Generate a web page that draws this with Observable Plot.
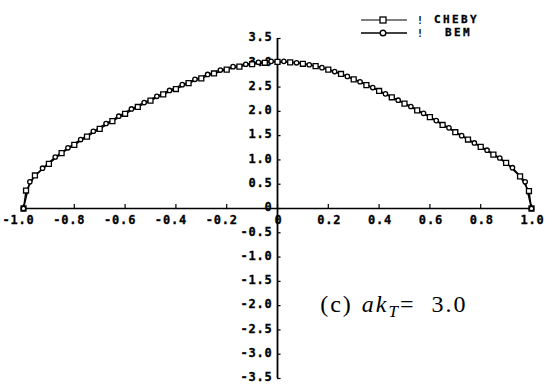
<!DOCTYPE html>
<html>
<head>
<meta charset="utf-8">
<script src="https://cdn.jsdelivr.net/npm/d3@7"></script>
<script src="https://cdn.jsdelivr.net/npm/@observablehq/plot@0.6"></script>
<style>
  html, body { margin: 0; padding: 0; background: #fff; }
  #chart { position: relative; width: 545px; height: 387px; }
</style>
</head>
<body>
<div id="chart"></div>
<script>
// Normalised distribution along -1 <= x <= 1, two solution methods.
const chebyX = [-1, -0.99, -0.955, -0.9, -0.85, -0.8, -0.75, -0.7, -0.65, -0.6, -0.55, -0.5, -0.45, -0.4, -0.35, -0.3, -0.25, -0.2, -0.15, -0.1, -0.05, 0,
                0.05, 0.1, 0.15, 0.2, 0.25, 0.3, 0.35, 0.4, 0.45, 0.5, 0.55, 0.6, 0.65, 0.7, 0.75, 0.8, 0.85, 0.9, 0.955, 0.99, 1];
const chebyY = [0, 0.37, 0.68, 0.92, 1.14, 1.31, 1.48, 1.64, 1.80, 1.95, 2.09, 2.22, 2.35, 2.46, 2.58, 2.68, 2.78, 2.86, 2.92, 2.97, 3.00, 3.02,
                3.01, 2.98, 2.93, 2.86, 2.77, 2.66, 2.54, 2.42, 2.29, 2.16, 2.02, 1.88, 1.72, 1.57, 1.42, 1.27, 1.11, 0.94, 0.66, 0.36, 0];

const bemX = [-1, -0.975, -0.925, -0.875, -0.825, -0.775, -0.725, -0.675, -0.625, -0.575, -0.525, -0.475, -0.425, -0.375, -0.325, -0.275, -0.225, -0.175, -0.125, -0.075, -0.025,
              0.025, 0.075, 0.125, 0.175, 0.225, 0.275, 0.325, 0.375, 0.425, 0.475, 0.525, 0.575, 0.625, 0.675, 0.725, 0.775, 0.825, 0.875, 0.925, 0.975, 1];
const bemY = [0, 0.55, 0.83, 1.06, 1.25, 1.42, 1.59, 1.75, 1.90, 2.05, 2.18, 2.31, 2.43, 2.55, 2.66, 2.76, 2.85, 2.92, 2.97, 3.01, 3.03,
              3.03, 3.00, 2.96, 2.90, 2.82, 2.72, 2.61, 2.49, 2.36, 2.23, 2.10, 1.96, 1.81, 1.66, 1.50, 1.35, 1.20, 1.04, 0.84, 0.55, 0];

const xTicks = [-1, -0.8, -0.6, -0.4, -0.2, 0, 0.2, 0.4, 0.6, 0.8, 1];
const xTickLabels = ["-1.0", "-0.8", "-0.6", "-0.4", "-0.2", "0", "0.2", "0.4", "0.6", "0.8", "1.0"];
const yTicks = [3.5, 3, 2.5, 2, 1.5, 1, 0.5, 0, -0.5, -1, -1.5, -2, -2.5, -3, -3.5];
const yTickLabels = ["3.5", "3.0", "2.5", "2.0", "1.5", "1.0", "0.5", "0", "-0.5", "-1.0", "-1.5", "-2.0", "-2.5", "-3.0", "-3.5"];

const seriesNames = ["CHEBY", "BEM"];

const cheby = chebyX.map((x, i) => ({x, y: chebyY[i]}));
const bem = bemX.map((x, i) => ({x, y: bemY[i]}));
const xt = xTicks.map((x, i) => ({x, label: xTickLabels[i]}));
const yt = yTicks.map((y, i) => ({y, label: yTickLabels[i]}));

const labelFont = {fontFamily: "DejaVu Sans Mono", fontWeight: "bold", fontSize: 12, fill: "black", stroke: "black", strokeWidth: 0.3};

const chart = Plot.plot({
  width: 545,
  height: 387,
  marginLeft: 23,
  marginRight: 14,
  marginTop: 38,
  marginBottom: 9,
  x: {domain: [-1, 1], axis: null},
  y: {domain: [-3.5, 3.5], axis: null},
  style: {background: "white", overflow: "visible"},
  marks: [
    // axes crossing at the origin
    Plot.ruleY([0], {x1: -1, x2: 1, stroke: "black", strokeWidth: 1.4}),
    Plot.ruleX([0], {y1: -3.5, y2: 3.5, stroke: "black", strokeWidth: 1.8}),
    Plot.ruleX(xTicks, {y1: 0, y2: 0.08, stroke: "black", strokeWidth: 1.2}),
    Plot.ruleY(yTicks, {x1: 0, x2: 0.014, stroke: "black", strokeWidth: 1.2}),
    // tick labels
    Plot.text(xt.filter(d => d.x < 0), {x: "x", y: 0, text: "label", dy: 12, dx: -5, ...labelFont}),
    Plot.text(xt.filter(d => d.x >= 0), {x: "x", y: 0, text: "label", dy: 12, dx: 1, ...labelFont}),
    Plot.text(yt, {x: 0, y: "y", text: "label", dx: -5, dy: -1, textAnchor: "end", ...labelFont}),
    // the two solutions
    Plot.line(cheby, {x: "x", y: "y", stroke: "black", strokeWidth: 1.4}),
    Plot.line(bem, {x: "x", y: "y", stroke: "black", strokeWidth: 1.4}),
    Plot.dot(cheby, {x: "x", y: "y", symbol: "square", r: 2.8, fill: "white", stroke: "black", strokeWidth: 1.3}),
    Plot.dot(bem, {x: "x", y: "y", symbol: "circle", r: 2.2, fill: "white", stroke: "black", strokeWidth: 1.3})
  ]
});

document.getElementById("chart").appendChild(chart);

const svg = d3.select(chart);
svg.selectAll("g[aria-label=text] text").style("letter-spacing", "0.8px");

// legend, top right
const legend = svg.append("g").attr("transform", "translate(361,0)").attr("text-anchor", "start");
const rows = [{name: seriesNames[0], sym: "square", y: 20, w: 1}, {name: seriesNames[1], sym: "circle", y: 33, w: 1.6}];
rows.forEach(r => {
  legend.append("line").attr("x1", 0).attr("x2", 46).attr("y1", r.y).attr("y2", r.y)
    .attr("stroke", "black").attr("stroke-width", r.w);
  if (r.sym === "square") {
    legend.append("rect").attr("x", 19).attr("y", r.y - 3).attr("width", 6).attr("height", 6)
      .attr("fill", "white").attr("stroke", "black").attr("stroke-width", 1.3);
  } else {
    legend.append("circle").attr("cx", 22).attr("cy", r.y).attr("r", 2.8)
      .attr("fill", "white").attr("stroke", "black").attr("stroke-width", 1.4);
  }
  legend.append("text").attr("x", 59).attr("y", r.y + 4).attr("text-anchor", "middle")
    .attr("font-family", "DejaVu Sans Mono").attr("font-weight", "bold").attr("font-size", 10)
    .text("!");
});
legend.append("text").attr("x", 73).attr("y", 23)
  .attr("font-family", "DejaVu Sans Mono").attr("font-weight", "bold").attr("font-size", 11)
  .attr("letter-spacing", "2.4px").attr("stroke", "black").attr("stroke-width", 0.3).text(seriesNames[0]);
legend.append("text").attr("x", 84).attr("y", 36)
  .attr("font-family", "DejaVu Sans Mono").attr("font-weight", "bold").attr("font-size", 11)
  .attr("letter-spacing", "2.4px").attr("stroke", "black").attr("stroke-width", 0.3).text(seriesNames[1]);

// case annotation placed in data coordinates
const sx = chart.scale("x"), sy = chart.scale("y");
const note = svg.append("text")
  .attr("x", sx.apply(0.17)).attr("y", sy.apply(-2.15)).attr("text-anchor", "start")
  .attr("font-family", "'Liberation Serif', 'Times New Roman', serif").attr("font-size", 24).attr("fill", "black")
  .attr("letter-spacing", "2px");
note.append("tspan").text("(c)");
note.append("tspan").attr("dx", 9).attr("font-style", "italic").text("ak");
note.append("tspan").attr("font-style", "italic").attr("font-size", 17).attr("dy", 5).text("T");
note.append("tspan").attr("dy", -5).text("=");
note.append("tspan").attr("dx", 16).text("3.0");
</script>
</body>
</html>
